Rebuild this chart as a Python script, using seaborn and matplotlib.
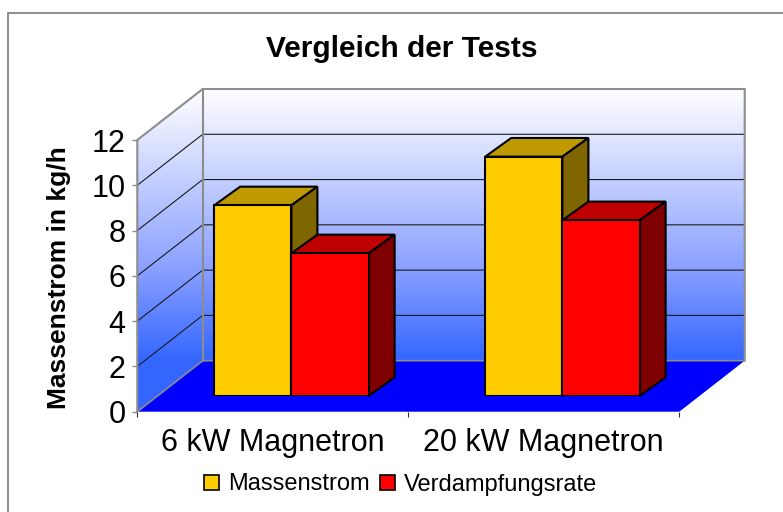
import numpy as np
import pandas as pd
import matplotlib
matplotlib.use('Agg')
import matplotlib.pyplot as plt
from matplotlib.colors import LinearSegmentedColormap
from matplotlib.patches import Polygon
import seaborn as sns

# Werte
categories = ['6 kW Magnetron', '20 kW Magnetron']
massenstrom = [8.42, 10.57]
verdampfung = [6.30, 7.76]
y_ticks = [0, 2, 4, 6, 8, 10, 12]

W, H = 783, 512
DPI = 100

# Geometrie in Pixeln
front_x0, front_x1 = 137.3, 679.3
front_bottom, front_top = 411.7, 140.0
wall_dx, wall_dy = 65.4, 51.0
bar_shift_x, bar_shift_y = 18.6, 15.7
depth_x, depth_y = 26.0, 18.7

sns.set_theme(style='white')
plt.rcParams['font.family'] = ['Liberation Sans', 'DejaVu Sans']
plt.rcParams['text.color'] = 'black'
plt.rcParams['axes.labelcolor'] = 'black'

fig = plt.figure(figsize=(W / DPI, H / DPI), dpi=DPI, facecolor='white')


def px_axes(x0, x1, y_bottom, y_top, **kw):
    return fig.add_axes([x0 / W, 1 - y_bottom / H, (x1 - x0) / W, (y_bottom - y_top) / H], **kw)


# Hintergrund: Rahmen, Waende, Boden
bg = fig.add_axes([0, 0, 1, 1])
bg.set_xlim(0, W)
bg.set_ylim(H, 0)
bg.axis('off')
bg.plot([8, 8, W], [H, 13.3, 13.3], color='#7a7a7a', lw=1.2, solid_joinstyle='miter')

wall_color = '#8c8c8c'
back_x0, back_x1 = front_x0 + wall_dx, front_x1 + wall_dx
back_bottom, back_top = front_bottom - wall_dy, front_top - wall_dy

cmap = LinearSegmentedColormap.from_list('wand', [(0, '#FFFFFF'), (0.66, '#8AA0FF'), (1, '#3366FF')])
gradient = np.linspace(0, 1, 256).reshape(-1, 1)
img = bg.imshow(gradient, cmap=cmap, extent=(front_x0, back_x1, back_bottom, back_top),
                aspect='auto', zorder=1)
img2 = bg.imshow(np.ones((2, 2)), cmap=cmap, vmin=0, vmax=1,
                 extent=(front_x0, back_x0, front_bottom, back_bottom), aspect='auto', zorder=1)
bg.set_xlim(0, W)
bg.set_ylim(H, 0)

wall_outline = [(front_x0, front_bottom), (front_x0, front_top), (back_x0, back_top),
                (back_x1, back_top), (back_x1, back_bottom), (back_x0, back_bottom)]
clip = Polygon(wall_outline, transform=bg.transData)
img.set_clip_path(clip)
img2.set_clip_path(clip)

floor = [(front_x0, front_bottom), (back_x0, back_bottom), (back_x1, back_bottom), (front_x1, front_bottom)]
bg.add_patch(Polygon(floor, fc='#0000FF', ec='none', zorder=2))

# Gitterlinien an Seiten- und Rueckwand
px_per_unit = (front_bottom - front_top) / 12
for val in y_ticks[1:-1]:
    yf = front_bottom - val * px_per_unit
    yb = yf - wall_dy
    bg.plot([front_x0, back_x0, back_x1], [yf, yb, yb], color='#1a1a1a', lw=0.8, zorder=3)

bg.plot([front_x0, front_x0, back_x0, back_x1, back_x1], [front_bottom, front_top, back_top, back_top, back_bottom],
        color=wall_color, lw=1.5, zorder=3, solid_joinstyle='miter')
bg.plot([back_x0, back_x0], [back_top, back_bottom], color=wall_color, lw=1.5, zorder=3)
bg.plot([front_x0, back_x0, back_x1], [front_bottom, back_bottom, back_bottom], color=wall_color, lw=1.2, zorder=3)

# Vordere Ebene mit Achsenbeschriftung
front = px_axes(front_x0, front_x1, front_bottom, front_top)
front.patch.set_alpha(0)
front.set_xlim(-0.5, 1.5)
front.set_ylim(0, 12)
front.set_yticks(y_ticks)
front.set_xticks([-0.5, 0.5, 1.5])
front.set_xticklabels([])
front.set_xticks([0, 1], minor=True)
front.set_xticklabels(categories, minor=True, fontsize=22)
front.tick_params(axis='x', which='major', length=3.5, width=0.8, color='#303030', bottom=True)
front.tick_params(axis='x', which='minor', length=0, pad=12, labelcolor='black')
front.tick_params(axis='y', length=3.5, width=1.0, color=wall_color, left=True, labelsize=22, pad=5, labelcolor='black')
for name, spine in front.spines.items():
    spine.set_visible(False)
front.set_ylabel('Massenstrom in kg/h', fontsize=19, fontweight='bold')
front.yaxis.set_label_coords(71 / W, 1 - 278 / H, transform=fig.transFigure)

# Balken
df = pd.DataFrame({
    'Kategorie': categories * 2,
    'Wert': massenstrom + verdampfung,
    'Reihe': ['Massenstrom'] * 2 + ['Verdampfungsrate'] * 2,
})
palette = {'Massenstrom': '#FFCC00', 'Verdampfungsrate': '#FF0000'}
top_colors = {'Massenstrom': '#BF9900', 'Verdampfungsrate': '#BF0000'}
side_colors = {'Massenstrom': '#7F6600', 'Verdampfungsrate': '#7F0000'}

ax = px_axes(front_x0 + bar_shift_x, front_x1 + bar_shift_x, front_bottom - bar_shift_y, front_top - bar_shift_y)
ax.patch.set_alpha(0)
sns.barplot(data=df, x='Kategorie', y='Wert', hue='Reihe', palette=palette, width=0.57, gap=0,
            saturation=1, edgecolor='black', linewidth=1.5, ax=ax)
ax.set_xlim(-0.5, 1.5)
ax.set_ylim(0, 12)
ax.axis('off')

dx_data = depth_x / ((front_x1 - front_x0) / 2)
dy_data = depth_y / px_per_unit
series = ['Massenstrom'] * 2 + ['Verdampfungsrate'] * 2
for bar, name in zip(list(ax.containers[0]) + list(ax.containers[1]), series):
    x0, x1 = bar.get_x(), bar.get_x() + bar.get_width()
    h = bar.get_height()
    bar.set_zorder(6)
    z = 3 if name == 'Massenstrom' else 4
    top = [(x0, h), (x1, h), (x1 + dx_data, h + dy_data), (x0 + dx_data, h + dy_data)]
    side = [(x1, 0), (x1, h), (x1 + dx_data, h + dy_data), (x1 + dx_data, dy_data)]
    ax.add_patch(Polygon(top, fc=top_colors[name], ec='black', lw=1.5, zorder=z, clip_on=False))
    ax.add_patch(Polygon(side, fc=side_colors[name], ec='black', lw=1.5, zorder=z, clip_on=False))

handles, labels = ax.get_legend_handles_labels()
ax.get_legend().remove()
leg = fig.legend(handles, labels, ncol=2, loc='center', bbox_to_anchor=(400.5 / W, 1 - 484.5 / H), frameon=False,
                 fontsize=17, handlelength=0.62, handleheight=0.62, handletextpad=0.38, columnspacing=0.45)
for h in leg.legend_handles:
    h.set_edgecolor('black')
    h.set_linewidth(1.2)

fig.text(401.5 / W, 1 - 49 / H, 'Vergleich der Tests', ha='center', va='center', fontsize=21.5, fontweight='bold')

fig.savefig('out.png', dpi=DPI)
